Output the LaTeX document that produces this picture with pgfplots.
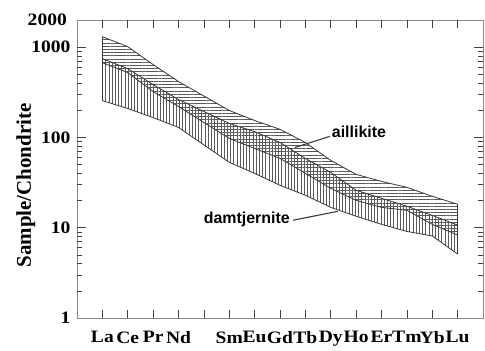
\documentclass[border=0pt]{standalone}
\usepackage{pgfplots}
\pgfplotsset{compat=1.18}
\usepackage{pgfplotstable}
\usetikzlibrary{patterns.meta}
\usepackage{fontspec}
\setmainfont{Liberation Serif}
\newfontfamily\tickfont{Liberation Serif}[FakeStretch=1.12]
\newfontfamily\annot{Liberation Sans}
\definecolor{edge}{HTML}{3A3A3A}
\definecolor{hatch}{HTML}{5A5A5A}
\definecolor{frame}{HTML}{8A8A8A}
\tikzset{tk/.style={black!75, line width=0.6bp}}

\pgfplotstableread{
x  Aup   Alow  Dup   Dlow
1  1306  674   746   256
2  1013  523   579   209
3  641   322   385   166
4  416   220   263   129
6  199   97.5  143   53
7  154   75.5  116   40
8  123   58.6  88    29.5
9  88    40    58.6  22.9
10 55.7  27.3  41    16.8
11 39    20.1  26    13.4
12 32.6  16.8  21.2  10.9
13 28    15.6  17.3  9.1
14 22.3  10.9  13.7  8.1
15 18.2  8.3   10.7  5.1
}\ree

\begin{document}
\begin{tikzpicture}
\begin{axis}[
  name=ax,
  scale only axis,
  width=406bp, height=298bp,
  ymode=log,
  ymin=1, ymax=2000,
  xmin=0, xmax=16,
  xtick={1,2,3,4,5,6,7,8,9,10,11,12,13,14,15},
  xticklabels={La,Ce,Pr,Nd,,Sm,Eu,Gd,Tb,Dy,Ho,Er,Tm,Yb,Lu},
  ytick={1,10,100,1000},
  yticklabels={1,10,100,1000},
  minor ytick={2,3,4,5,6,7,8,9,20,30,40,50,60,70,80,90,200,300,400,500,600,700,800,900},
  tick align=inside,
  major tick length=8bp,
  minor tick length=5bp,
  every tick/.append style={black!75, line width=0.6bp},
  every outer x axis line/.append style={frame, line width=0.8bp},
  every outer y axis line/.append style={frame, line width=0.8bp},
  ticklabel style={font=\tickfont\fontsize{17.5}{17.5}\selectfont\bfseries},
  xticklabel style={yshift=-10bp, inner xsep=0pt},
  yticklabel style={xshift=-3bp},
  ylabel={Sample/Chondrite},
  ylabel style={at={(axis description cs:-0.158,0.445)}, anchor=north,
    font=\fontsize{21}{21}\selectfont\bfseries},
  clip=false,
]
% aillikite envelope: upper boundary then lower boundary reversed
\addplot[pattern={Lines[angle=0, distance=3.2bp, line width=0.45bp]}, pattern color=hatch, draw=none]
  coordinates {(1,1306) (2,1013) (3,641) (4,416) (6,199) (7,154) (8,123) (9,88) (10,55.7) (11,39) (12,32.6) (13,28) (14,22.3) (15,18.2)
               (15,8.3) (14,10.9) (13,15.6) (12,16.8) (11,20.1) (10,27.3) (9,40) (8,58.6) (7,75.5) (6,97.5) (4,220) (3,322) (2,523) (1,674)} -- cycle;
% damtjernite envelope
\addplot[pattern={Lines[angle=90, distance=3.2bp, line width=0.45bp]}, pattern color=hatch, draw=none]
  coordinates {(1,746) (2,579) (3,385) (4,263) (6,143) (7,116) (8,88) (9,58.6) (10,41) (11,26) (12,21.2) (13,17.3) (14,13.7) (15,10.7)
               (15,5.1) (14,8.1) (13,9.1) (12,10.9) (11,13.4) (10,16.8) (9,22.9) (8,29.5) (7,40) (6,53) (4,129) (3,166) (2,209) (1,256)} -- cycle;
\addplot[draw=edge, line width=0.8bp] table[x=x, y=Aup]{\ree};
\addplot[draw=edge, line width=0.8bp] table[x=x, y=Alow]{\ree};
\addplot[draw=edge, line width=0.8bp] table[x=x, y=Dup]{\ree};
\addplot[draw=edge, line width=0.8bp] table[x=x, y=Dlow]{\ree};
\addplot[draw=edge, line width=0.8bp] coordinates {(1,1306) (1,256)};
\addplot[draw=edge, line width=0.8bp] coordinates {(15,18.2) (15,5.1)};
% tick marks drawn explicitly from fixed points on the frame
\pgfplotsinvokeforeach{1,2,3,4,5,6,7,8,9,10,11,12,13,14,15}{
  \draw[tk] (axis cs:#1,1) -- ([yshift=7bp]axis cs:#1,1);
  \draw[tk] (axis cs:#1,2000) -- ([yshift=-7bp]axis cs:#1,2000);
}
\pgfplotsinvokeforeach{10,100,1000}{
  \draw[tk] (axis cs:0,#1) -- ([xshift=9bp]axis cs:0,#1);
  \draw[tk] (axis cs:16,#1) -- ([xshift=-9bp]axis cs:16,#1);
}
\pgfplotsinvokeforeach{2,3,4,5,6,7,8,9,20,30,40,50,60,70,80,90,200,300,400,500,600,700,800,900}{
  \draw[tk] (axis cs:0,#1) -- ([xshift=5bp]axis cs:0,#1);
  \draw[tk] (axis cs:16,#1) -- ([xshift=-5bp]axis cs:16,#1);
}
\draw[edge, line width=1.1bp] (axis cs:8.59,77.5) -- (axis cs:9.96,102.6);
\node[anchor=west, inner sep=1bp, font=\annot\bfseries\fontsize{16}{16}\selectfont] at (axis cs:10.0,116) {aillikite};
\draw[edge, line width=1.1bp] (axis cs:8.51,12.1) -- (axis cs:10.28,15.2);
\node[anchor=east, inner sep=1bp, font=\annot\bfseries\fontsize{16}{16}\selectfont] at (axis cs:8.43,12.4) {damtjernite};
\node[anchor=east, inner sep=0pt, font=\tickfont\fontsize{17.5}{17.5}\selectfont\bfseries] at ([xshift=-10bp]rel axis cs:0,1) {2000};
\end{axis}
\path ([shift={(-77bp,-27bp)}]ax.south west) rectangle ([shift={(2bp,20bp)}]ax.north east);
\end{tikzpicture}
\end{document}
